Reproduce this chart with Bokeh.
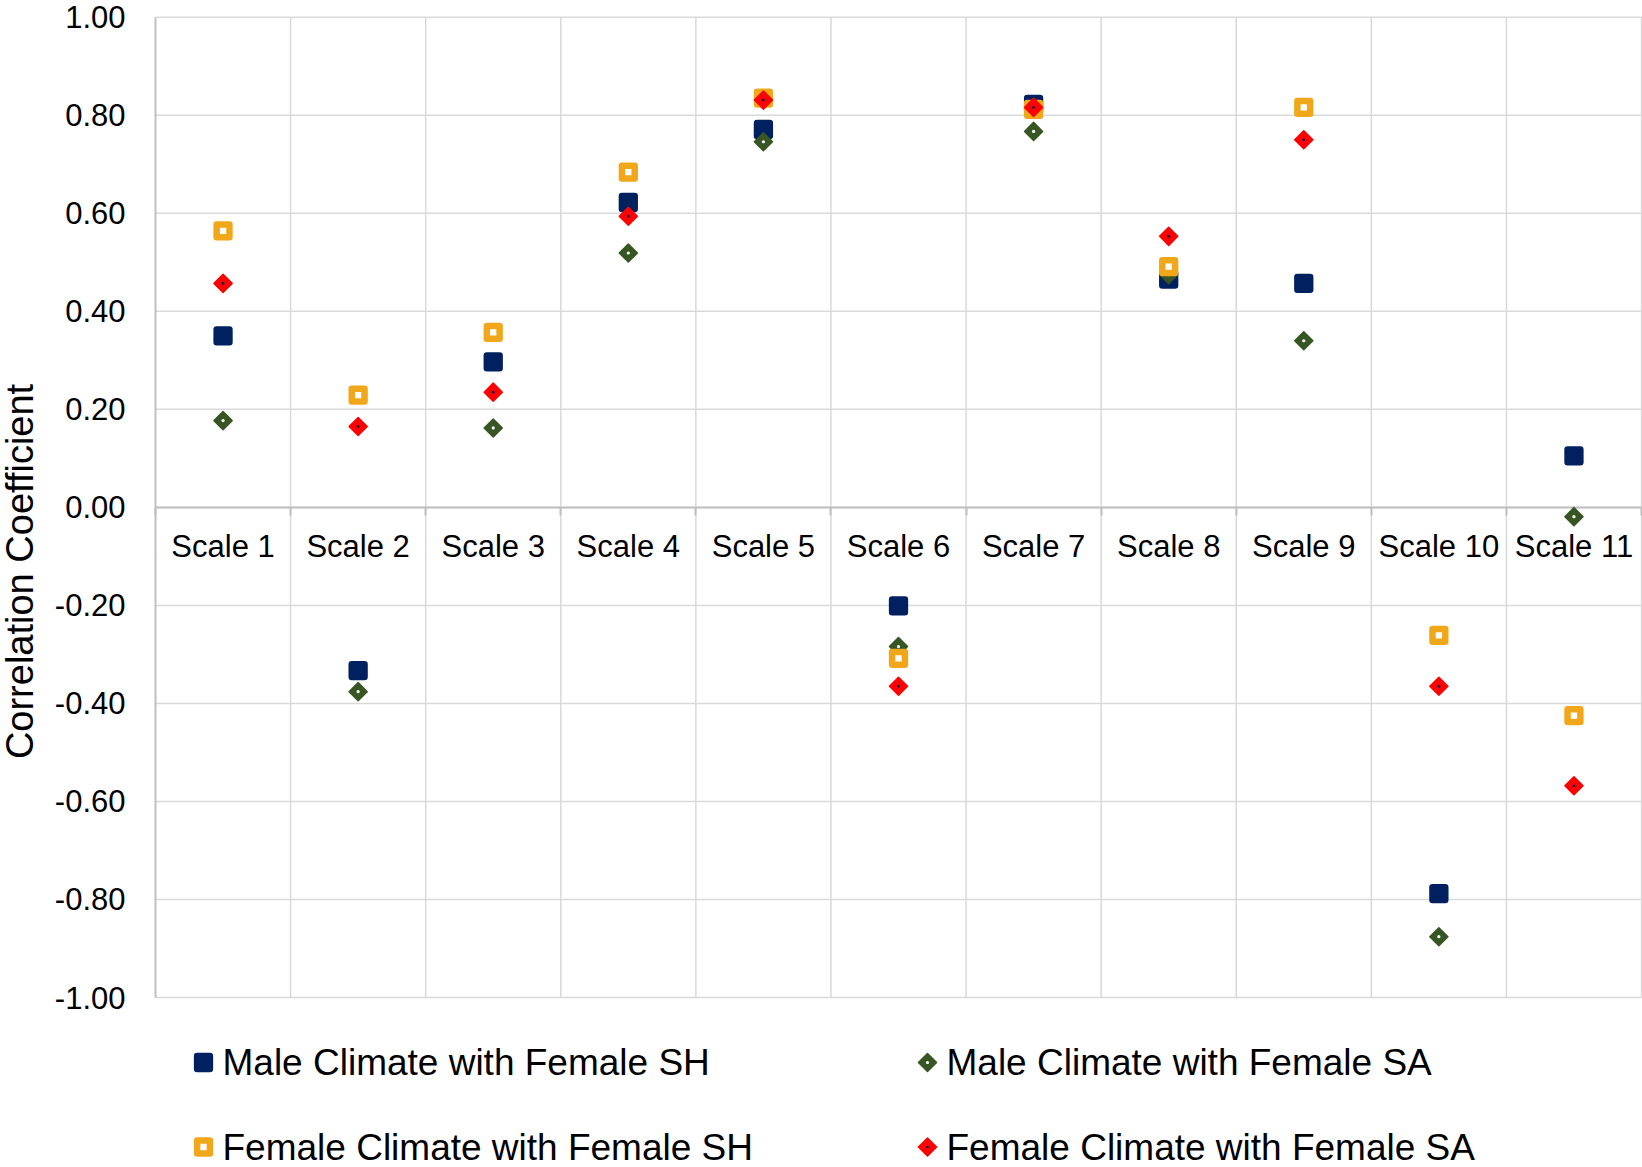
from math import pi

from bokeh.plotting import figure
from bokeh.models import Range1d, FixedTicker, NumeralTickFormatter, LinearAxis, Label
from bokeh.core.properties import value
from bokeh.embed import file_html
from bokeh.resources import INLINE

# --- data -------------------------------------------------------------------
categories = [f"Scale {i}" for i in range(1, 12)]

male_climate_female_sh = [0.350, -0.333, 0.297, 0.622, 0.771, -0.201, 0.822, 0.466, 0.457, -0.788, 0.105]
male_climate_female_sa = [0.177, -0.376, 0.162, 0.519, 0.746, -0.284, 0.767, 0.475, 0.340, -0.876, -0.019]
female_climate_female_sh = [0.564, 0.229, 0.357, 0.684, 0.835, -0.308, 0.812, 0.491, 0.816, -0.261, -0.425]
female_climate_female_sa = [0.457, 0.165, 0.235, 0.594, 0.831, -0.365, 0.816, 0.553, 0.750, -0.365, -0.568]

series_names = [
    "Male Climate with Female SH",
    "Male Climate with Female SA",
    "Female Climate with Female SH",
    "Female Climate with Female SA",
]

y_ticks = [round(-1.0 + 0.2 * i, 1) for i in range(11)]

# --- styling ----------------------------------------------------------------
FONT = "Liberation Sans"
NAVY = "#002060"
GREEN = "#375623"
ORANGE = "#F0A81A"
RED = "#FF0000"
GRID = "#d9d9d9"
AXIS = "#bfbfbf"

W, H = 1642, 1167
PLOT_LEFT, PLOT_RIGHT = 155, 1641       # pixel x of the outer category band edges
PLOT_TOP, PLOT_BOTTOM = 16.75, 997      # pixel y of +1.00 / -1.00

n = len(categories)
y_lo, y_hi = y_ticks[0], y_ticks[-1]
x_unit = (PLOT_RIGHT - PLOT_LEFT) / n
y_unit = (PLOT_BOTTOM - PLOT_TOP) / (y_hi - y_lo)


def px_x(px):
    return (px - PLOT_LEFT) / x_unit


def px_y(py):
    return y_hi - (py - PLOT_TOP) / y_unit


# one category band = one x unit; the canvas also holds the labels and legend
x_range = Range1d(px_x(0), px_x(W))
y_range = Range1d(px_y(H), px_y(0))

p = figure(
    width=W, height=H, x_range=x_range, y_range=y_range,
    x_axis_location=None, y_axis_location=None,
    output_backend="svg", toolbar_location=None, tools="",
    min_border=0, min_border_left=0, min_border_right=0, min_border_top=0, min_border_bottom=0,
    background_fill_color="white", border_fill_color="white", outline_line_color=None,
)
p.xgrid.visible = False
p.ygrid.visible = False

x_pos = [i + 0.5 for i in range(n)]
bounds = list(range(n + 1))

# grid lines
p.segment(x0=[0] * len(y_ticks), y0=y_ticks, x1=[n] * len(y_ticks), y1=y_ticks,
          line_color=GRID, line_width=1.5)
p.segment(x0=bounds[1:], y0=[y_lo] * n, x1=bounds[1:], y1=[y_hi] * n,
          line_color=GRID, line_width=1.5)

# value axis
ya = LinearAxis(fixed_location=0, bounds=(y_lo, y_hi))
ya.ticker = FixedTicker(ticks=y_ticks)
ya.formatter = NumeralTickFormatter(format="0.00")
ya.axis_line_color = AXIS
ya.axis_line_width = 2
ya.major_tick_line_color = None
ya.minor_tick_line_color = None
ya.major_label_standoff = 24
ya.major_label_text_font = FONT
ya.major_label_text_font_size = "31px"
ya.major_label_text_color = "black"
p.add_layout(ya, "left")

# category axis on the zero line, short marks at the band edges
xa = LinearAxis(fixed_location=0, bounds=(0, n))
xa.ticker = FixedTicker(ticks=x_pos, minor_ticks=bounds)
xa.major_label_overrides = {x: c for x, c in zip(x_pos, categories)}
xa.axis_line_color = AXIS
xa.axis_line_width = 2
xa.major_tick_line_color = None
xa.minor_tick_line_color = AXIS
xa.minor_tick_line_width = 2
xa.minor_tick_in = 0
xa.minor_tick_out = 8
xa.major_label_standoff = 14
xa.major_label_text_font = FONT
xa.major_label_text_font_size = "31px"
xa.major_label_text_color = "black"
p.add_layout(xa, "below")

# --- marker styles per series -------------------------------------------------
MS = 12.8
styles = [
    dict(marker="square", size=MS, fill_color=NAVY, line_color=NAVY, line_width=6.5),
    dict(marker="square", angle=pi / 4, size=MS, fill_color=GREEN, line_color=GREEN, line_width=1.5),
    dict(marker="square", size=MS, fill_color="white", line_color=ORANGE, line_width=6.5),
    dict(marker="square", angle=pi / 4, size=MS, fill_color=RED, line_color=RED, line_width=1.5),
]
centre_dots = [None, dict(size=MS, line_color="white"), None, dict(size=11, line_color=NAVY)]
series_values = [male_climate_female_sh, male_climate_female_sa,
                 female_climate_female_sh, female_climate_female_sa]


def draw_series(xs, ys, style, dot):
    p.scatter(xs, ys, line_join="round", level="overlay", **style)
    if dot is not None:
        p.scatter(xs, ys, marker="dot", level="overlay", **dot)


for vals, style, dot in zip(series_values, styles, centre_dots):
    draw_series(x_pos, vals, style, dot)

# --- legend: two rows of two entries below the plot ---------------------------
legend_icon_px = [(203, 1062), (927, 1062), (203, 1146.5), (927, 1146.5)]
legend_text_dx = 19
for (ix, iy), style, dot in zip(legend_icon_px, styles, centre_dots):
    draw_series([px_x(ix)], [px_y(iy)], style, dot)

p.text(
    x=[px_x(ix + legend_text_dx) for ix, _ in legend_icon_px],
    y=[px_y(iy) for _, iy in legend_icon_px],
    text=series_names,
    text_font=value(FONT), text_font_size=value("37px"), text_color="black",
    text_align="left", text_baseline="middle",
)

# vertical axis title
p.add_layout(Label(
    x=px_x(19.5), y=-0.1308,
    text="Correlation Coefficient", angle=pi / 2,
    text_align="center", text_baseline="alphabetic",
    text_font=FONT, text_font_size="38px", text_color="black",
))

open("out.html", "w").write(file_html(p, INLINE))
